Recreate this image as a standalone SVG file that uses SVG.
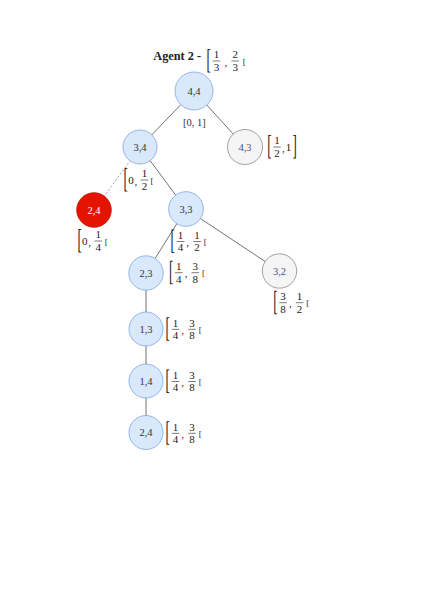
<svg xmlns="http://www.w3.org/2000/svg" width="433" height="605" viewBox="0 0 433 605">
<style>
text{font-family:"Liberation Serif","Times New Roman",serif;fill:#222}
.node text{font-size:10.5px;text-anchor:middle}
.blue circle{fill:#dae8fc;stroke:#7ea6e0;stroke-width:0.8}
.blue text{fill:#333}
.gray circle{fill:#f5f5f5;stroke:#8a8a8a;stroke-width:0.8}
.gray text{fill:#4d4d8c}
.red circle{fill:#e51400;stroke:#c01000;stroke-width:0.8}
.red text{fill:#ffffff}
#edges line{stroke:#444;stroke-width:0.75}
#edges line.dash{stroke:#888;stroke-width:0.8;stroke-dasharray:2 2}
.iv text{font-size:11px}
.iv .d{text-anchor:middle}
.iv .tb{font-size:13px}
.iv .s{font-size:9px}
.iv line{stroke:#222;stroke-width:0.6}
.title{font-size:12.3px;font-weight:bold}
</style>
<rect width="433" height="605" fill="#ffffff"/>
<g id="edges">
<line x1="194" y1="91" x2="140" y2="147"/>
<line x1="194" y1="91" x2="245" y2="147"/>
<line class="dash" x1="140" y1="147" x2="94" y2="210"/>
<line x1="140" y1="147" x2="186" y2="209"/>
<line x1="186" y1="209" x2="146" y2="273"/>
<line x1="186" y1="209" x2="279.5" y2="271"/>
<line x1="146" y1="273" x2="146" y2="329"/>
<line x1="146" y1="329" x2="146" y2="381"/>
<line x1="146" y1="381" x2="146" y2="432.5"/>
</g>
<g id="n44" class="node blue"><circle cx="194" cy="91" r="19"/><text x="194" y="94.6">4,4</text></g>
<g id="n34" class="node blue"><circle cx="140" cy="147" r="17"/><text x="140" y="150.6">3,4</text></g>
<g id="n43" class="node gray"><circle cx="245" cy="147" r="17.5"/><text x="245" y="150.6">4,3</text></g>
<g id="n24a" class="node red"><circle cx="94" cy="210" r="17.3"/><text x="94" y="213.6">2,4</text></g>
<g id="n33" class="node blue"><circle cx="186" cy="209" r="17.3"/><text x="186" y="212.6">3,3</text></g>
<g id="n23" class="node blue"><circle cx="146" cy="273" r="17.2"/><text x="146" y="276.6">2,3</text></g>
<g id="n32" class="node gray"><circle cx="279.5" cy="271" r="17.2"/><text x="279.5" y="274.6">3,2</text></g>
<g id="n13" class="node blue"><circle cx="146" cy="329" r="17"/><text x="146" y="332.6">1,3</text></g>
<g id="n14" class="node blue"><circle cx="146" cy="381" r="17"/><text x="146" y="384.6">1,4</text></g>
<g id="n24b" class="node blue"><circle cx="146" cy="432.5" r="17"/><text x="146" y="436.1">2,4</text></g>

<g id="title">
<text class="title" x="153.3" y="60">Agent 2 -</text>
<g class="iv" transform="translate(207.7,61)">
<text class="tb" transform="translate(-1.1,7.8) scale(1,2.2) rotate(0.1)">[</text>
<text class="d" x="8.8" y="-2.6">1</text><line x1="5" y1="0" x2="12.6" y2="0"/><text class="d" x="8.8" y="9.9">3</text>
<text class="d" x="18.3" y="4.5">,</text>
<text class="d" x="27.5" y="-2.6">2</text><line x1="23.7" y1="0" x2="31.3" y2="0"/><text class="d" x="27.5" y="9.9">3</text>
<text class="s" x="35" y="3.5">[</text>
</g>
</g>

<g id="lab-root"><text x="194.3" y="125.7" font-size="10.5" text-anchor="middle" style="fill:#333">[0, 1]</text></g>

<g class="iv" transform="translate(268.3,147)">
<text class="tb" transform="translate(-1.1,7.8) scale(1,2.2) rotate(0.1)">[</text>
<text class="d" x="8.8" y="-2.6">1</text><line x1="5" y1="0" x2="12.6" y2="0"/><text class="d" x="8.8" y="9.9">2</text>
<text class="d" x="15" y="4.5">,</text>
<text class="d" x="20.3" y="4">1</text>
<text class="tb" transform="translate(24.2,7.8) scale(1,2.2) rotate(0.1)">]</text>
</g>

<g class="iv" transform="translate(124.7,180)">
<text class="tb" transform="translate(-1.1,7.8) scale(1,2.2) rotate(0.1)">[</text>
<text class="d" x="6.2" y="4">0</text>
<text class="d" x="11.2" y="4.5">,</text>
<text class="d" x="19.8" y="-2.6">1</text><line x1="16" y1="0" x2="23.6" y2="0"/><text class="d" x="19.8" y="9.9">2</text>
<text class="s" x="25.8" y="3.5">[</text>
</g>

<g class="iv" transform="translate(78.5,241)">
<text class="tb" transform="translate(-1.1,7.8) scale(1,2.2) rotate(0.1)">[</text>
<text class="d" x="6.2" y="4">0</text>
<text class="d" x="11.2" y="4.5">,</text>
<text class="d" x="19.8" y="-2.6">1</text><line x1="16" y1="0" x2="23.6" y2="0"/><text class="d" x="19.8" y="9.9">4</text>
<text class="s" x="26.3" y="3.5">[</text>
</g>

<g class="iv" transform="translate(171.7,241.5)">
<text class="tb" transform="translate(-1.1,7.8) scale(1,2.2) rotate(0.1)">[</text>
<text class="d" x="8.8" y="-2.6">1</text><line x1="5" y1="0" x2="12.6" y2="0"/><text class="d" x="8.8" y="9.9">4</text>
<text class="d" x="16" y="4.5">,</text>
<text class="d" x="25.3" y="-2.6">1</text><line x1="21.5" y1="0" x2="29.1" y2="0"/><text class="d" x="25.3" y="9.9">2</text>
<text class="s" x="32" y="3.5">[</text>
</g>

<g class="iv" transform="translate(170,272.7)">
<text class="tb" transform="translate(-1.1,7.8) scale(1,2.2) rotate(0.1)">[</text>
<text class="d" x="8.8" y="-2.6">1</text><line x1="5" y1="0" x2="12.6" y2="0"/><text class="d" x="8.8" y="9.9">4</text>
<text class="d" x="16" y="4.5">,</text>
<text class="d" x="25.3" y="-2.6">3</text><line x1="21.5" y1="0" x2="29.1" y2="0"/><text class="d" x="25.3" y="9.9">8</text>
<text class="s" x="32" y="3.5">[</text>
</g>

<g class="iv" transform="translate(274.3,302.7)">
<text class="tb" transform="translate(-1.1,7.8) scale(1,2.2) rotate(0.1)">[</text>
<text class="d" x="8.8" y="-2.6">3</text><line x1="5" y1="0" x2="12.6" y2="0"/><text class="d" x="8.8" y="9.9">8</text>
<text class="d" x="16" y="4.5">,</text>
<text class="d" x="25.3" y="-2.6">1</text><line x1="21.5" y1="0" x2="29.1" y2="0"/><text class="d" x="25.3" y="9.9">2</text>
<text class="s" x="32" y="3.5">[</text>
</g>

<g class="iv" transform="translate(166.7,329.3)">
<text class="tb" transform="translate(-1.1,7.8) scale(1,2.2) rotate(0.1)">[</text>
<text class="d" x="8.8" y="-2.6">1</text><line x1="5" y1="0" x2="12.6" y2="0"/><text class="d" x="8.8" y="9.9">4</text>
<text class="d" x="16" y="4.5">,</text>
<text class="d" x="25.3" y="-2.6">3</text><line x1="21.5" y1="0" x2="29.1" y2="0"/><text class="d" x="25.3" y="9.9">8</text>
<text class="s" x="32" y="3.5">[</text>
</g>

<g class="iv" transform="translate(166.7,381.5)">
<text class="tb" transform="translate(-1.1,7.8) scale(1,2.2) rotate(0.1)">[</text>
<text class="d" x="8.8" y="-2.6">1</text><line x1="5" y1="0" x2="12.6" y2="0"/><text class="d" x="8.8" y="9.9">4</text>
<text class="d" x="16" y="4.5">,</text>
<text class="d" x="25.3" y="-2.6">3</text><line x1="21.5" y1="0" x2="29.1" y2="0"/><text class="d" x="25.3" y="9.9">8</text>
<text class="s" x="32" y="3.5">[</text>
</g>

<g class="iv" transform="translate(166.7,433.3)">
<text class="tb" transform="translate(-1.1,7.8) scale(1,2.2) rotate(0.1)">[</text>
<text class="d" x="8.8" y="-2.6">1</text><line x1="5" y1="0" x2="12.6" y2="0"/><text class="d" x="8.8" y="9.9">4</text>
<text class="d" x="16" y="4.5">,</text>
<text class="d" x="25.3" y="-2.6">3</text><line x1="21.5" y1="0" x2="29.1" y2="0"/><text class="d" x="25.3" y="9.9">8</text>
<text class="s" x="32" y="3.5">[</text>
</g>
</svg>
